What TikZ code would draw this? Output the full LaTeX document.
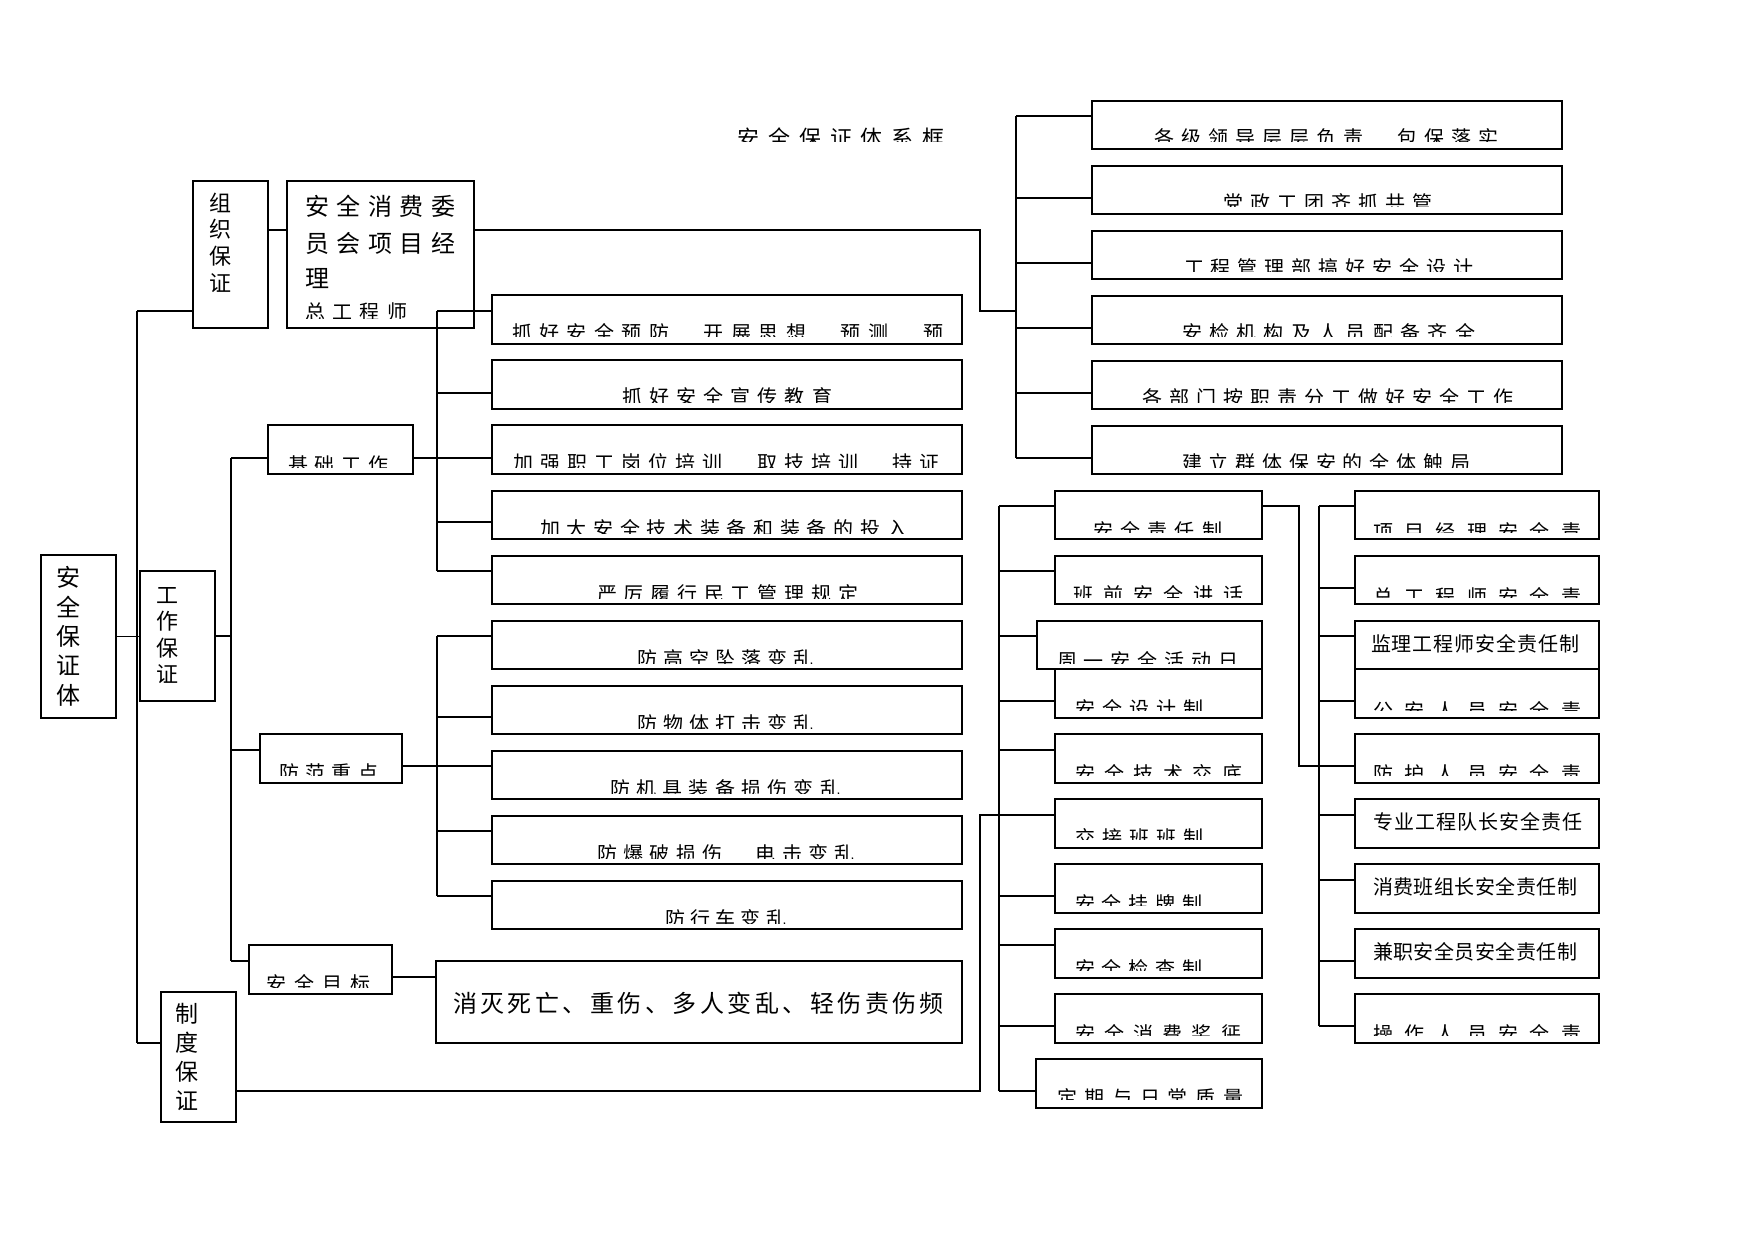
\documentclass[tikz,border=0pt]{standalone}
\usepackage{fontspec}
\setmainfont{Noto Sans CJK SC}
\def\sprloop#1{\ifx\relax#1\else#1\hfil\expandafter\sprloop\fi}
\newcommand\spread[2]{\hbox to #1{\sprloop#2\relax\unskip}}
% punctuation that sits below the clip line, as in the reference
\def\pc{\raisebox{-7pt}{，}}
\def\pd{\raisebox{-7pt}{、}}
\tikzset{
  box/.style={draw, line width=1.6pt, inner sep=0pt, outer sep=0pt},
  ln/.style={line width=1.2pt},
  tk/.style={line width=2pt},
  cl/.style={inner sep=0pt, outer sep=0pt},
}
% box: name, x1, y1, x2, y2
\newcommand\bx[5]{\node[box, minimum width={(#4-#2)*1pt}, minimum height={(#5-#3)*1pt}] (#1) at ({(#2+#4)/2},{(#3+#5)/2}) {};}
% clipped text: [fs] name, left, right, ink top, clip y, text
\newcommand\ct[7][20]{%
  \pgfmathsetmacro\sw{#4-#3}%
  \begin{scope}
    \clip ({#3-10},{#5-30}) rectangle ({#4+10},{#6});
    \node[cl, anchor=base west, font=\fontsize{#1}{#1}\selectfont] (#2) at (#3,{#5+0.83*#1}) {\spread{\sw pt}{#7}};
  \end{scope}}
% full text: [fs] name, left, right, ink top, text
\newcommand\ft[6][20]{%
  \pgfmathsetmacro\sw{#4-#3}%
  \node[cl, anchor=base west, font=\fontsize{#1}{#1}\selectfont] (#2) at (#3,{#5+0.83*#1}) {\spread{\sw pt}{#6}};}
% vertical text: name, x, top, pitch, fs, list
\newcommand\vt[6]{\foreach \c [count=\i from 0] in {#6} {\node[cl, anchor=base, font=\fontsize{#5}{#5}\selectfont] (#1\i) at (#2,{#3+\i*#4+0.83*#5}) {\c};}}
\begin{document}
\begin{tikzpicture}[x=1pt,y=-1pt]
\fill[white] (0,0) rectangle (1754,1241);
\useasboundingbox (0,0) rectangle (1754,1241);

% ---------- boxes ----------
\bx{anq}{41}{555}{116}{718}
\bx{zz}{193}{181}{268}{328}
\bx{aqxf}{287}{181}{474}{328}
\bx{gz}{140}{571}{215}{701}
\bx{zd}{161}{992}{236}{1122}
\bx{jc}{268}{425}{413}{474}
\bx{ff}{260}{734}{402}{783}
\bx{mb}{249}{945}{392}{994}
\bx{xm}{436}{961}{962}{1043}
\bx{L1}{492}{295}{962}{344}
\bx{L2}{492}{360}{962}{409}
\bx{L3}{492}{425}{962}{474}
\bx{L4}{492}{491}{962}{539}
\bx{L5}{492}{556}{962}{604}
\bx{L6}{492}{621}{962}{669}
\bx{L7}{492}{686}{962}{734}
\bx{L8}{492}{751}{962}{799}
\bx{L9}{492}{816}{962}{864}
\bx{L10}{492}{881}{962}{929}
\bx{R1}{1092}{101}{1562}{149}
\bx{R2}{1092}{166}{1562}{214}
\bx{R3}{1092}{231}{1562}{279}
\bx{R4}{1092}{296}{1562}{344}
\bx{R5}{1092}{361}{1562}{409}
\bx{R6}{1092}{426}{1562}{474}
\bx{M1}{1055}{491}{1262}{539}
\bx{M2}{1055}{556}{1262}{604}
\bx{M4}{1055}{669}{1262}{718}
\bx{M3}{1037}{621}{1262}{669}
\bx{M5}{1055}{734}{1262}{783}
\bx{M6}{1055}{799}{1262}{848}
\bx{M7}{1055}{864}{1262}{913}
\bx{M8}{1055}{929}{1262}{978}
\bx{M9}{1055}{994}{1262}{1043}
\bx{M10}{1036}{1059}{1262}{1108}
\bx{P1}{1355}{491}{1599}{539}
\bx{P2}{1355}{556}{1599}{604}
\bx{P4}{1355}{669}{1599}{718}
\bx{P3}{1355}{621}{1599}{669}
\bx{P5}{1355}{734}{1599}{783}
\bx{P6}{1355}{799}{1599}{848}
\bx{P7}{1355}{864}{1599}{913}
\bx{P8}{1355}{929}{1599}{978}
\bx{P9}{1355}{994}{1599}{1043}

% ---------- connectors ----------
\coordinate (T1) at (137,311);
\coordinate (T2) at (137,1043);
\draw[tk] (T1) -- (T2);
\draw[ln] (T1) -- (T1 -| zz.west);
\draw[ln] (T2) -- (T2 -| zd.west);
\draw[ln] (anq.east) -- (anq.east -| gz.west);

\coordinate (Y230) at (272,230);
\draw[ln] (Y230 -| zz.east) -- (Y230 -| aqxf.west);
\coordinate (C1) at (980,230);
\coordinate (C2) at (980,311);
\coordinate (D0) at (1016,311);
\draw[ln] (C1 -| aqxf.east) -- (C1) -- (C2) -- (D0);
\coordinate (D1) at (1016,116);
\coordinate (D2) at (1016,458);
\draw[tk] (D1) -- (D2);
\foreach \n/\y in {R1/116,R2/198,R3/263,R4/328,R5/393,R6/458}
  {\coordinate (k) at (1016,\y); \draw[ln] (k) -- (k -| \n.west);}

\coordinate (E1) at (231,458);
\coordinate (E2) at (231,961);
\coordinate (E3) at (231,750);
\draw[ln] (E1) -- (E2);
\draw[ln] (gz.east) -- (gz.east -| E1);
\draw[ln] (E1) -- (E1 -| jc.west);
\draw[ln] (E3) -- (E3 -| ff.west);
\draw[ln] (E2) -- (E2 -| mb.west);

\coordinate (F1) at (437,311);
\coordinate (F2) at (437,571);
\coordinate (F3) at (437,458);
\draw[tk] (F1) -- (F2);
\draw[ln] (F3 -| jc.east) -- (F3);
\foreach \n/\y in {L1/311,L2/393,L3/458,L4/522,L5/571}
  {\coordinate (k) at (437,\y); \draw[ln] (k) -- (k -| \n.west);}

\coordinate (G1) at (437,636);
\coordinate (G2) at (437,896);
\coordinate (G3) at (437,766);
\draw[tk] (G1) -- (G2);
\draw[ln] (G3 -| ff.east) -- (G3);
\foreach \n/\y in {L6/636,L7/717,L8/766,L9/831,L10/896}
  {\coordinate (k) at (437,\y); \draw[ln] (k) -- (k -| \n.west);}

\coordinate (H1) at (436,977);
\draw[ln] (H1 -| mb.east) -- (H1 -| xm.west);

\coordinate (K1) at (980,1091);
\coordinate (K2) at (980,815);
\coordinate (K3) at (999,815);
\draw[ln] (K1 -| zd.east) -- (K1) -- (K2) -- (K3);
\coordinate (Ma) at (999,506);
\coordinate (Mb) at (999,1091);
\draw[ln] (Ma) -- (Mb);
\foreach \n/\y in {M1/506,M2/571,M3/636,M4/701,M5/750,M6/815,M7/896,M8/945,M9/1026,M10/1091}
  {\coordinate (k) at (999,\y); \draw[ln] (k) -- (k -| \n.west);}

\coordinate (N1) at (1299,506);
\coordinate (N2) at (1299,766);
\draw[ln] (N1 -| M1.east) -- (N1) -- (N2) -- (N2 -| P5.west);
\coordinate (Pa) at (1319,506);
\coordinate (Pb) at (1319,1026);
\draw[tk] (Pa) -- (Pb);
\foreach \n/\y in {P1/506,P2/588,P3/636,P4/701,P6/815,P7/880,P8/961,P9/1026}
  {\coordinate (k) at (1319,\y); \draw[ln] (k) -- (k -| \n.west);}

% ---------- texts ----------
\ct[22]{title}{737}{945}{128}{142}{安全保证体系框}

\vt{anqt}{68}{567}{29.3}{24}{安,全,保,证,体}
\vt{zzt}{220}{193}{26.7}{22}{组,织,保,证}
\vt{gzt}{167}{585}{26.5}{22}{工,作,保,证}
\vt{zdt}{187}{1003}{29}{23}{制,度,保,证}

\ft[24]{aq1}{305}{455}{196}{安全消费委}
\ft[24]{aq2}{305}{455}{233}{员会项目经}
\node[cl, anchor=base west, font=\fontsize{24}{24}\selectfont] (aq3) at (305,{268+0.83*24}) {理};
\ct{aq4}{305}{407}{303}{319}{总工程师}

\ct{jct}{288}{388}{456}{467}{基础工作}
\ct{fft}{279}{378}{764}{775}{防范重点}
\ct{mbt}{266}{370}{975}{987}{安全目标}
\ft[24]{xmt}{453}{944}{993}{消灭死亡、重伤、多人变乱、轻伤责伤频}

\ct{L1t}{512}{943}{324}{337}{抓好安全预防\pc 开展思想\pd 预测\pd 预}
\ct{L2t}{622}{832}{388}{402}{抓好安全宣传教育}
\ct{L3t}{513}{940}{454}{467}{加强职工岗位培训\pd 取技培训\pd 持证}
\ct{L4t}{540}{907}{520}{533}{加大安全技术装备和装备的投入}
\ct{L5t}{597}{858}{585}{598}{严厉履行民工管理规定}
\ct{L6t}{637}{813}{650}{663}{防高空坠落变乱}
\ct{L7t}{637}{813}{715}{728}{防物体打击变乱}
\ct{L8t}{610}{840}{780}{793}{防机具装备损伤变乱}
\ct{L9t}{597}{855}{845}{858}{防爆破损伤\pd 电击变乱}
\ct{L10t}{665}{786}{910}{923}{防行车变乱}

\ct{R1t}{1154}{1498}{129}{142}{各级领导层层负责\pc 包保落实}
\ct{R2t}{1223}{1432}{194}{207}{党政工团齐抓共管}
\ct{R3t}{1184}{1473}{259}{272}{工程管理部搞好安全设计}
\ct{R4t}{1182}{1475}{324}{337}{安检机构及人员配备齐全}
\ct{R5t}{1142}{1513}{389}{402}{各部门按职责分工做好安全工作}
\ct{R6t}{1182}{1470}{454}{467}{建立群体保安的全体触局}

\ct{M1t}{1093}{1222}{522}{532}{安全责任制}
\ct{M2t}{1073}{1243}{586}{597}{班前安全讲话}
\ct{M3t}{1057}{1238}{652}{663}{周一安全活动日}
\ct{M4t}{1075}{1203}{700}{710}{安全设计制}
\ct{M5t}{1075}{1242}{765}{775}{安全技术交底}
\ct{M6t}{1075}{1203}{829}{839}{交接班班制}
\ct{M7t}{1075}{1202}{895}{905}{安全挂牌制}
\ct{M8t}{1075}{1202}{960}{970}{安全检查制}
\ct{M9t}{1075}{1241}{1025}{1035}{安全消费奖惩}
\ct{M10t}{1057}{1243}{1089}{1099}{定期与日常质量}

\ct{P1t}{1373}{1581}{523}{532}{项目经理安全责}
\ct{P2t}{1373}{1581}{588}{597}{总工程师安全责}
\ft{P3t}{1371}{1579}{635}{监理工程师安全责任制}
\ct{P4t}{1373}{1581}{702}{710}{公安人员安全责}
\ct{P5t}{1373}{1581}{765}{775}{防护人员安全责}
\ft{P6t}{1373}{1582}{813}{专业工程队长安全责任}
\ft{P7t}{1373}{1577}{878}{消费班组长安全责任制}
\ft{P8t}{1373}{1577}{943}{兼职安全员安全责任制}
\ct{P9t}{1373}{1581}{1025}{1035}{操作人员安全责}
\end{tikzpicture}
\end{document}
